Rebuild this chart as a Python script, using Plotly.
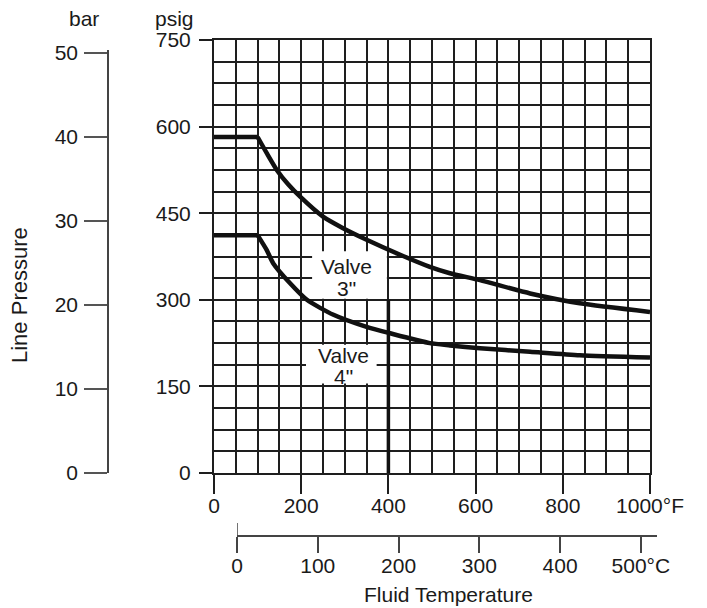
import plotly.graph_objects as go

# ---------------- data ----------------
temp_f_3in = [0, 100, 121, 144, 170, 197, 250, 296, 350, 427, 495, 541, 610, 725, 839, 1000]
psig_3in = [582, 582, 554, 525, 500, 479, 444, 424, 404, 378, 357, 346, 334, 311, 294, 279]

temp_f_4in = [0, 100, 121, 136, 174, 213, 274, 350, 404, 495, 541, 610, 725, 839, 1000]
psig_4in = [412, 412, 386, 363, 329, 300, 274, 253, 242, 225, 221, 216, 210, 204, 200]

limit_line_f = [400, 400]
limit_line_psig = [0, 300]

f_ticks = [0, 200, 400, 600, 800, 1000]
f_ticktext = ["0", "200", "400", "600", "800", "1000°F"]
psig_ticks = [0, 150, 300, 450, 600, 750]
bar_ticks = [0, 10, 20, 30, 40, 50]
c_ticks = [0, 100, 200, 300, 400, 500]
c_ticktext = ["0", "100", "200", "300", "400", "500°C"]

# ---------------- layout helpers ----------------
OFF = 8                      # default page body margin
W, H = 707 - OFF, 608 - OFF
def fx(px):
    return (px - OFF) / W
def fy(py):
    return 1 - (py - OFF) / H

FONT = "Liberation Sans, Arial, Helvetica, sans-serif"
TXT = "#1a1a1a"
GRID = "#1e1e1e"
FS = 21

fig = go.Figure()

CURVE = dict(color="#111111", width=4.5)
for xs, ys in ((temp_f_3in, psig_3in), (temp_f_4in, psig_4in)):
    # flat plateau (first two readings) and the smooth falling part
    fig.add_trace(go.Scatter(x=xs[:2], y=ys[:2], mode="lines", line=CURVE,
                             showlegend=False, hoverinfo="skip"))
    fig.add_trace(go.Scatter(x=xs[1:], y=ys[1:], mode="lines",
                             line=dict(shape="spline", smoothing=0.6, **CURVE),
                             showlegend=False, hoverinfo="skip"))
fig.add_trace(go.Scatter(x=limit_line_f, y=limit_line_psig, mode="lines",
                         line=dict(color="#111111", width=3.5), showlegend=False,
                         hoverinfo="skip"))
# invisible trace that activates the secondary (°C / bar) axes
fig.add_trace(go.Scatter(x=c_ticks, y=bar_ticks, xaxis="x2", yaxis="y2", mode="none",
                         showlegend=False, hoverinfo="skip"))

fig.update_layout(
    width=W, height=H,
    margin=dict(l=0, r=0, t=0, b=0),
    paper_bgcolor="white", plot_bgcolor="rgba(0,0,0,0)",
    font=dict(family=FONT, size=FS, color=TXT),
    xaxis=dict(
        domain=[fx(214), fx(650)], range=[0, 1000], anchor="y",
        tickmode="array", tickvals=f_ticks, ticktext=f_ticktext,
        ticks="outside", ticklen=19, tickwidth=2, tickcolor=GRID,
        showgrid=True, gridcolor=GRID, gridwidth=2,
        minor=dict(dtick=50, tick0=0, showgrid=True, gridcolor=GRID, gridwidth=2, ticks=""),
        showline=True, mirror=True, linecolor=GRID, linewidth=2,
        zeroline=False, automargin=False, ticklabelstandoff=-6,
        tickfont=dict(size=FS, color=TXT),
    ),
    yaxis=dict(
        domain=[fy(473), fy(40)], range=[0, 750], anchor="x",
        tickmode="array", tickvals=psig_ticks,
        ticks="outside", ticklen=13, tickwidth=2, tickcolor=GRID,
        showgrid=True, gridcolor=GRID, gridwidth=2,
        minor=dict(dtick=37.5, tick0=0, showgrid=True, gridcolor=GRID, gridwidth=2, ticks=""),
        showline=True, mirror=True, linecolor=GRID, linewidth=2,
        zeroline=False, automargin=False, ticklabelstandoff=4,
        tickfont=dict(size=FS, color=TXT),
    ),
    xaxis2=dict(
        domain=[fx(237), fx(657)], range=[0, 520], anchor="free", position=fy(536),
        tickmode="array", tickvals=c_ticks, ticktext=c_ticktext,
        ticks="outside", ticklen=16, tickwidth=1.5, tickcolor="#444444",
        showline=True, linecolor="#444444", linewidth=1.5,
        showgrid=False, zeroline=False, automargin=False, ticklabelstandoff=-5,
        tickfont=dict(size=FS, color=TXT),
    ),
    yaxis2=dict(
        domain=[fy(473), fy(50)], range=[0, 50.36], anchor="free", position=fx(108),
        side="left",
        tickmode="array", tickvals=bar_ticks,
        ticks="outside", ticklen=23, tickwidth=1.5, tickcolor="#555555",
        showline=True, linecolor="#444444", linewidth=1.5,
        showgrid=False, zeroline=False, automargin=False, ticklabelstandoff=2,
        tickfont=dict(size=FS, color=TXT),
    ),
)

# white boxes behind the valve labels (covering the grid)
fig.add_shape(type="rect", xref="x", yref="y", x0=225, x1=396.5, y0=302, y1=384,
              fillcolor="white", line=dict(width=0), layer="between")
fig.add_shape(type="rect", xref="x", yref="y", x0=211, x1=373, y0=155, y1=222,
              fillcolor="white", line=dict(width=0), layer="between")
# upward stub of the 0 °C tick
fig.add_shape(type="line", xref="x2", yref="paper", x0=0, x1=0, y0=fy(536), y1=fy(523),
              line=dict(color="#444444", width=1.5))

ann = [
    dict(text="Valve", x=304, y=357, xref="x", yref="y", size=FS),
    dict(text='3"', x=304, y=320, xref="x", yref="y", size=FS),
    dict(text="Valve", x=297, y=204, xref="x", yref="y", size=FS),
    dict(text='4"', x=297, y=167, xref="x", yref="y", size=FS),
    dict(text="bar", x=fx(84), y=fy(18), xref="paper", yref="paper", size=FS),
    dict(text="psig", x=fx(174), y=fy(18), xref="paper", yref="paper", size=FS),
    dict(text="Fluid Temperature", x=fx(448), y=fy(594), xref="paper", yref="paper", size=FS),
    dict(text="Line Pressure", x=fx(20), y=fy(295), xref="paper", yref="paper",
         textangle=-90, size=22),
]
for a in ann:
    size = a.pop("size")
    fig.add_annotation(showarrow=False, font=dict(family=FONT, size=size, color=TXT),
                       xanchor="center", yanchor="middle", **a)

fig.write_html("out.html")
